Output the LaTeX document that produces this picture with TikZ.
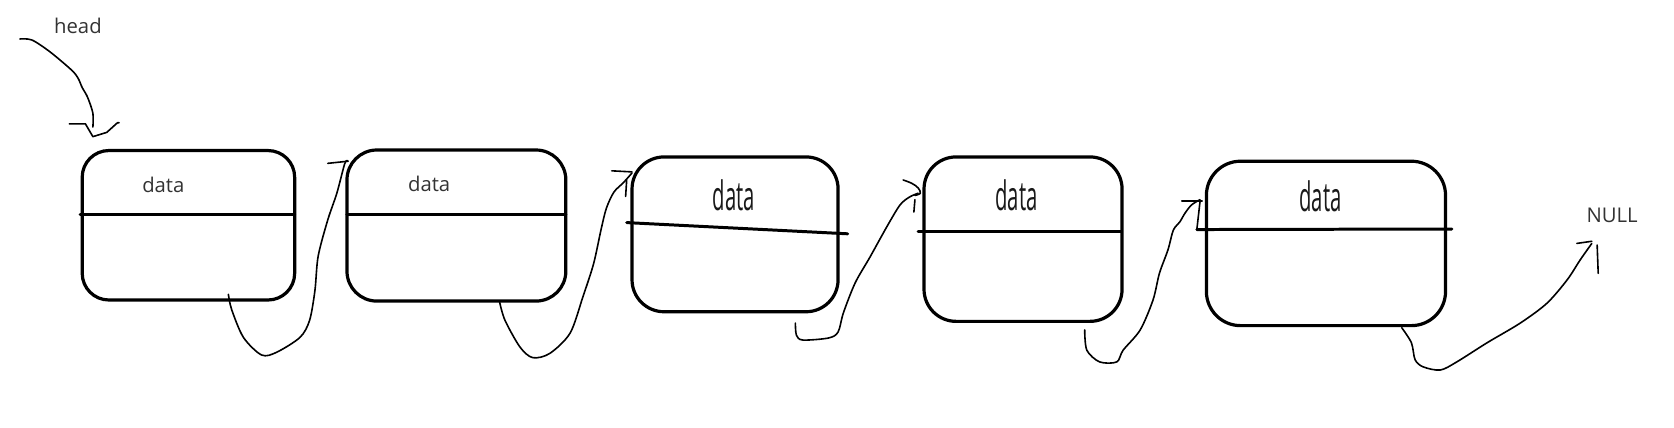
\documentclass[tikz,border=0pt]{standalone}
\usepackage{fontspec}
\setmainfont{Open Sans}
\usepackage{graphicx}
\begin{document}
\begin{tikzpicture}[x=1pt,y=-1pt,
  box/.style={draw, line width=3pt, rounded corners=#1, inner sep=0pt, outer sep=0pt},
  rule/.style={line width=2.8pt, line cap=round},
  pen/.style={line width=1.5pt, line join=round, line cap=round},
  lbl/.style={font=\fontsize{19}{22}\selectfont, text=black!80, inner sep=0pt},
  big/.style={font=\fontsize{38}{40}\selectfont, text=black!90, inner sep=0pt}]
\useasboundingbox (0,0) rectangle (1568,400);

% boxes
\node[box=25pt, minimum width=199pt, minimum height=140pt] (n1) at (176.5,211) {};
\node[box=28pt, minimum width=205pt, minimum height=141.5pt] (n2) at (427.5,211.25) {};
\node[box=30pt, minimum width=193pt, minimum height=145pt] (n3) at (688.5,219.5) {};
\node[box=30pt, minimum width=185.5pt, minimum height=154pt] (n4) at (958.25,224) {};
\node[box=32pt, minimum width=224pt, minimum height=154pt] (n5) at (1242,228) {};

% dividers
\draw[rule] (75,201) -- (276,201);
\draw[rule] (325,201) -- (530,201);
\draw[rule] (587,208.5) -- (794,219);
\draw[rule] (860,216.5) -- (1050,216.5);
\draw[rule] (1121,215) -- (1360,214.5);

% texts
\node[lbl] (t1) at (153,173) {data};
\node[lbl] (t2) at (402,172.4) {data};
\node[big] (t3) at (687.5,183) {\scalebox{0.5}[1]{data}};
\node[big] (t4) at (952,183) {\scalebox{0.5}[1]{data}};
\node[big] (t5) at (1237,184) {\scalebox{0.5}[1]{data}};
\node[lbl] (head) at (73,24) {head};
\node[lbl] (null) at (1510,202) {NULL};

% head pointer
\draw[pen] plot[smooth, tension=0.5] coordinates {(18.7,36.5) (30,37.5) (47,48.7) (67,65.6) (73,73) (77,82) (82,91) (87,106) (87,119)};
\draw[pen] (65,116) -- (80,116) -- (87,128) -- (100,124) -- (110,115) -- (111.5,115);

% connector 1 -> 2
\draw[pen] plot[smooth, tension=0.5] coordinates {(213.9,275.7) (217,290) (228,316) (245,332.5) (259,330) (281,316) (290,300) (295,272) (298,240) (307,206) (315.5,181) (323,153) (326,151)};
\draw[pen] (307,153) -- (326,151);

% connector 2 -> 3
\draw[pen] plot[smooth, tension=0.5] coordinates {(468,283) (473,300) (487,325) (499,335) (515,331) (534,312) (546,278) (556,247) (563,215) (568,195) (575,180) (584,171) (592,162)};
\draw[pen] (573,160) -- (592,161);
\draw[pen] (587,168.6) -- (586,184);

% connector 3 -> 4
\draw[pen] plot[smooth, tension=0.5] coordinates {(745,302.6) (746,314) (752,318.5) (776,316.6) (785,311) (790,293) (801,265) (815,240.6) (830.6,212.5) (843,192) (852,184.5) (860,181)};
\draw[pen] plot[smooth, tension=0.6] coordinates {(846,168.6) (854,171.7) (860,176) (862,181) (857,183)};
\draw[pen] (857,187) -- (856,198.6);

% connector 4 -> 5
\draw[pen] plot[smooth, tension=0.5] coordinates {(1016,309) (1018,328) (1030,339) (1046,339) (1052,328) (1068,309) (1080,281) (1086,256) (1094,234) (1099,215.6) (1105,208) (1110,199.6) (1116,192) (1124,187)};
\draw[pen] (1107,188) -- (1126,188);
\draw[pen] (1124,189) -- (1121,215.4);

% connector 5 -> NULL
\draw[pen] plot[smooth, tension=0.5] coordinates {(1313,307) (1322,321) (1325.5,337) (1333,343.6) (1349,346.6) (1364.5,339) (1393,321) (1424,302.6) (1449,284) (1468,262) (1480,243.6) (1491,228)};
\draw[pen] (1477,228) -- (1491,226);
\draw[pen] (1496,229.5) -- (1497,256);
\end{tikzpicture}
\end{document}
